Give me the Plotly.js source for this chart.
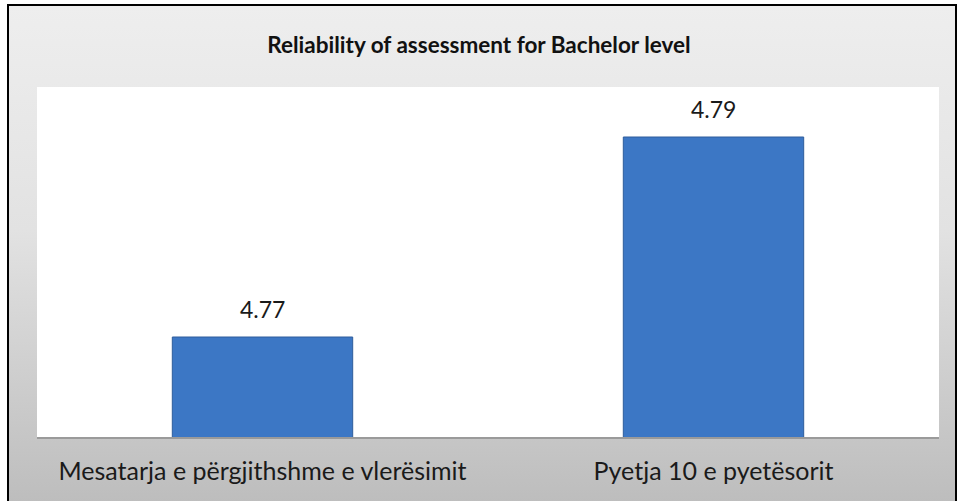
<!DOCTYPE html>
<html>
<head>
<meta charset="utf-8">
<script src="https://cdn.plot.ly/plotly-3.0.1.min.js"></script>
<style>
  html, body { margin: 0; padding: 0; background: #fff; }
  #frame {
    position: absolute; left: 7px; top: 4px; width: 946px; height: 497px;
    border: 2px solid #000; border-bottom: none;
    background: linear-gradient(to bottom, #eeeeee 0%, #e2e2e2 45%, #bdbdbd 100%);
  }
  #chart { position: absolute; left: 0; top: 0; width: 958px; height: 501px; }
</style>
</head>
<body>
<div id="frame"></div>
<div id="chart"></div>
<script>
const categories = ['Mesatarja e përgjithshme e vlerësimit', 'Pyetja 10 e pyetësorit'];
const values = [4.77, 4.79];
const valueLabels = ['4.77', '4.79'];

const trace = {
  x: categories,
  y: values,
  type: 'bar',
  marker: {
    color: '#3c77c5',
    line: { color: '#2e5d9c', width: 1 }
  },
  hoverinfo: 'x+y'
};

const annotations = categories.map((c, i) => ({
  x: c,
  y: values[i],
  text: valueLabels[i],
  showarrow: false,
  yanchor: 'bottom',
  yshift: 12,
  font: { family: 'Lato, sans-serif', size: 23, color: '#1a1a1a' }
}));

const layout = {
  width: 958,
  height: 501,
  margin: { l: 37, r: 19, t: 87, b: 64 },
  paper_bgcolor: 'rgba(0,0,0,0)',
  plot_bgcolor: '#ffffff',
  title: {
    text: '<b>Reliability of assessment for Bachelor level</b>',
    x: 0.5,
    xanchor: 'center',
    y: 0.91,
    yanchor: 'middle',
    font: { family: 'Lato, sans-serif', size: 22.5, color: '#111' }
  },
  bargap: 0.6,
  xaxis: {
    showline: true,
    linecolor: '#9a9a9a',
    linewidth: 2,
    ticks: '',
    ticklabelstandoff: 11,
    tickfont: { family: 'Lato, sans-serif', size: 25, color: '#1a1a1a' },
    fixedrange: true
  },
  yaxis: {
    visible: false,
    range: [4.76, 4.795],
    showgrid: false,
    zeroline: false,
    fixedrange: true
  },
  annotations: annotations,
  showlegend: false
};

Plotly.newPlot('chart', [trace], layout, { displayModeBar: false, staticPlot: true });
</script>
</body>
</html>
